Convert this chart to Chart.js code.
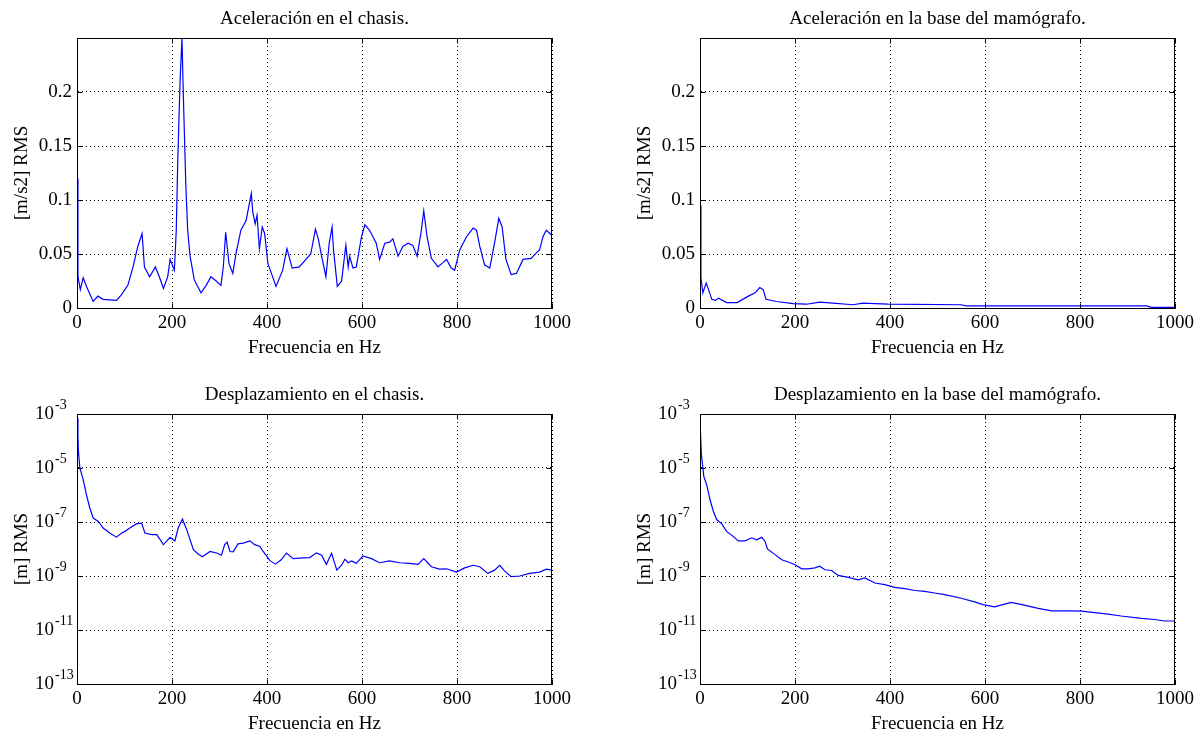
<!DOCTYPE html>
<html>
<head>
<meta charset="utf-8">
<script src="https://cdn.jsdelivr.net/npm/chart.js@4"></script>
<style>
  body { margin: 0; background: #fff; width: 1203px; height: 738px; position: relative; overflow: hidden; }
  canvas { position: absolute; }
</style>
</head>
<body>
<canvas id="g1" width="577" height="360" style="left:0;top:0"></canvas>
<canvas id="g2" width="577" height="360" style="left:623px;top:0"></canvas>
<canvas id="g3" width="577" height="360" style="left:0;top:376px"></canvas>
<canvas id="g4" width="577" height="360" style="left:623px;top:376px"></canvas>
<script>
// Datos (frecuencia en Hz / valor RMS)

// Aceleración en el chasis
var frecChasis = [0, 2, 7, 13, 20, 34, 44, 55, 83, 93,
    107, 118, 128, 137, 142, 153, 165, 174, 182, 191,
    196, 205, 209, 212, 217, 221, 224, 229, 233, 238,
    247, 261, 272, 282, 293, 303, 308, 313, 320, 328,
    335, 345, 356, 367, 370, 375, 379, 384, 390, 395,
    402, 419, 433, 442, 453, 468, 482, 492, 502, 508,
    515, 524, 531, 537, 540, 548, 557, 566, 571, 574,
    581, 588, 599, 606, 616, 630, 637, 648, 658, 665,
    676, 686, 697, 707, 716, 725, 730, 737, 746, 760,
    778, 788, 795, 806, 820, 834, 841, 848, 858, 869,
    879, 888, 895, 903, 914, 925, 939, 956, 967, 974,
    981, 988, 998, 1000];
var acelChasis = [0.12, 0.029, 0.017, 0.028, 0.02, 0.006, 0.011, 0.008, 0.007, 0.012,
    0.021, 0.038, 0.057, 0.069, 0.038, 0.029, 0.038, 0.028, 0.018, 0.029,
    0.045, 0.035, 0.072, 0.134, 0.21, 0.25, 0.195, 0.115, 0.072, 0.048,
    0.026, 0.014, 0.021, 0.029, 0.025, 0.021, 0.038, 0.07, 0.041, 0.032,
    0.051, 0.072, 0.081, 0.106, 0.089, 0.078, 0.086, 0.055, 0.075, 0.069,
    0.041, 0.02, 0.035, 0.055, 0.037, 0.038, 0.045, 0.05, 0.073, 0.064,
    0.048, 0.029, 0.06, 0.075, 0.054, 0.02, 0.025, 0.058, 0.038, 0.048,
    0.037, 0.038, 0.066, 0.077, 0.072, 0.06, 0.045, 0.06, 0.061, 0.064,
    0.048, 0.057, 0.06, 0.058, 0.048, 0.072, 0.09, 0.066, 0.046, 0.038,
    0.045, 0.037, 0.035, 0.054, 0.066, 0.074, 0.072, 0.057, 0.04, 0.037,
    0.06, 0.083, 0.075, 0.045, 0.031, 0.032, 0.045, 0.046, 0.051, 0.054,
    0.066, 0.072, 0.068, 0.066];

// Aceleración en la base del mamógrafo
var frecBase = [0, 2, 6, 13, 18, 25, 32, 39, 56, 78, 102, 116, 126, 133, 139, 161, 196, 224, 252, 280, 322, 343, 396, 550, 560, 600, 940, 950, 1000];
var acelBase = [0.095, 0.028, 0.014, 0.023, 0.017, 0.008, 0.007, 0.009, 0.005, 0.005, 0.011, 0.014, 0.019, 0.017, 0.008, 0.006, 0.004, 0.0035, 0.0055, 0.0045, 0.003, 0.0045, 0.0035, 0.003, 0.002, 0.002, 0.002, 0.0006, 0.0006];

// Desplazamiento en el chasis
var frecDespChasis = [0, 2, 3, 6, 13, 20, 27, 34, 45, 55, 69, 83, 94, 101, 111, 125, 136, 143, 157, 168,
    182, 196, 206, 213, 222, 231, 245, 255, 264, 280, 294, 304, 311, 316, 322, 329, 339, 350, 364, 374,
    385, 392, 406, 418, 430, 441, 455, 476, 490, 504, 515, 525, 536, 547, 557, 564, 571, 578, 588, 602,
    620, 637, 658, 679, 700, 718, 730, 746, 763, 778, 799, 816, 834, 848, 865, 879, 890, 900, 914, 932,
    953, 974, 988, 1000];
var despChasis = [7e-4, 1.5e-4, 4.2e-5, 1e-5, 3.7e-6, 1e-6, 3.3e-7, 1.4e-7, 1.05e-7, 6e-8, 3.9e-8, 2.75e-8, 3.9e-8, 4.5e-8, 6e-8, 8.5e-8, 9.1e-8, 3.9e-8, 3.4e-8, 3.4e-8,
    1.45e-8, 2.7e-8, 2e-8, 6e-8, 1.3e-7, 5.2e-8, 9.5e-9, 6.5e-9, 5.2e-9, 8.1e-9, 7.1e-9, 5.9e-9, 1.45e-8, 1.8e-8, 8.1e-9, 7.8e-9, 1.55e-8, 1.65e-8, 2e-8, 1.45e-8,
    1.25e-8, 8.1e-9, 3.7e-9, 2.75e-9, 4e-9, 7.1e-9, 4.4e-9, 4.7e-9, 4.8e-9, 7.2e-9, 5.9e-9, 2.7e-9, 6.9e-9, 1.65e-9, 2.5e-9, 4.2e-9, 3.1e-9, 3.6e-9, 2.95e-9, 5.5e-9,
    4.4e-9, 3.1e-9, 3.6e-9, 3.1e-9, 2.95e-9, 2.7e-9, 4.4e-9, 2.2e-9, 1.8e-9, 1.85e-9, 1.4e-9, 2e-9, 2.5e-9, 2.2e-9, 1.25e-9, 1.65e-9, 2.5e-9, 1.55e-9, 9.5e-10, 1e-9,
    1.25e-9, 1.4e-9, 1.8e-9, 1.65e-9];

// Desplazamiento en la base del mamógrafo
var frecDespBase = [0, 3, 8, 14, 21, 28, 35, 46, 56, 67, 81, 95, 109, 119, 130, 137, 142, 158, 172, 186,
    200, 214, 228, 242, 252, 263, 277, 291, 312, 333, 347, 368, 389, 410, 431, 453, 473, 494, 515, 550,
    578, 596, 620, 655, 683, 712, 740, 775, 803, 831, 859, 887, 929, 957, 978, 1000];
var despBase = [5.4e-4, 3.1e-5, 4.9e-6, 2.4e-6, 6.8e-7, 2.5e-7, 1.23e-7, 8.5e-8, 4.5e-8, 3.2e-8, 2e-8, 2e-8, 2.6e-8, 2.2e-8, 2.7e-8, 1.9e-8, 1e-8, 6.2e-9, 4e-9, 3.3e-9,
    2.6e-9, 1.85e-9, 1.85e-9, 2e-9, 2.3e-9, 1.7e-9, 1.6e-9, 1.05e-9, 8.9e-10, 7.2e-10, 8.5e-10, 5.5e-10, 4.8e-10, 3.8e-10, 3.4e-10, 2.9e-10, 2.7e-10, 2.35e-10, 2.05e-10, 1.5e-10,
    1.1e-10, 8.7e-11, 7.2e-11, 1.05e-10, 8.3e-11, 6.3e-11, 5.1e-11, 5.1e-11, 5e-11, 4.4e-11, 3.9e-11, 3.3e-11, 2.7e-11, 2.45e-11, 2.15e-11, 2.15e-11];

// Marcas de los ejes
var marcasFrec = [0, 200, 400, 600, 800, 1000];
var marcasAcel = [0, 0.05, 0.1, 0.15, 0.2];
var marcasDesp = [1e-13, 1e-11, 1e-9, 1e-7, 1e-5, 1e-3];

var fuente = "'Liberation Serif', 'Times New Roman', serif";
Chart.defaults.font.family = fuente;
Chart.defaults.font.size = 19;
Chart.defaults.color = '#000';

// Marco completo alrededor del área y marcas hacia dentro (estilo MATLAB)
var marco = {
    id: 'marco',
    afterDraw: function(chart) {
        var a = chart.chartArea, ctx = chart.ctx;
        var ex = chart.scales.x, ey = chart.scales.y;
        var l = Math.round(a.left) + 0.5, r = Math.round(a.right) - 0.5;
        var t = Math.round(a.top) + 0.5, b = Math.round(a.bottom) + 0.5;
        ctx.save();
        ctx.strokeStyle = '#000';
        ctx.lineWidth = 1;
        ctx.strokeRect(l, t, r - l, b - t);
        ctx.beginPath();
        ex.ticks.forEach(function(k) {
            var px = Math.round(ex.getPixelForValue(k.value)) + 0.5;
            ctx.moveTo(px, b); ctx.lineTo(px, b - 5);
            ctx.moveTo(px, t); ctx.lineTo(px, t + 5);
        });
        ey.ticks.forEach(function(k) {
            var py = Math.round(ey.getPixelForValue(k.value)) + 0.5;
            ctx.moveTo(l, py); ctx.lineTo(l + 5, py);
            ctx.moveTo(r, py); ctx.lineTo(r - 5, py);
        });
        ctx.stroke();
        ctx.restore();
    }
};

// Exponentes de las etiquetas 10^n en el eje logarítmico
var exponentes = {
    id: 'exponentes',
    afterDraw: function(chart) {
        var ey = chart.scales.y;
        if (ey.type !== 'logarithmic') return;
        var ctx = chart.ctx;
        ctx.save();
        ctx.font = '14px ' + fuente;
        ctx.fillStyle = '#000';
        ctx.textAlign = 'left';
        ctx.textBaseline = 'middle';
        ey.ticks.forEach(function(k) {
            var py = ey.getPixelForValue(k.value);
            ctx.fillText('-' + Math.round(-Math.log10(k.value)), ey.right - 22, py - 9);
        });
        ctx.restore();
    }
};

function crearGrafico(id, titulo, etiquetaY, frec, valores, log) {
    var ejeY = {
        type: log ? 'logarithmic' : 'linear',
        min: log ? 1e-13 : 0,
        max: log ? 1e-3 : 0.25,
        afterFit: function(s) { s.width = 77; },
        afterBuildTicks: function(s) {
            s.ticks = (log ? marcasDesp : marcasAcel).map(function(v) { return { value: v }; });
        },
        ticks: {
            padding: log ? 23 : 5,
            callback: function(v) { return log ? '10' : String(Number(v.toFixed(2))); }
        },
        grid: { color: '#000', drawTicks: false, lineWidth: 1 },
        border: { display: true, color: '#000', dash: [1, 3] },
        title: { display: true, text: etiquetaY, padding: { top: 10.6, bottom: 0 } }
    };
    return new Chart(document.getElementById(id), {
        type: 'line',
        data: {
            datasets: [{
                data: frec.map(function(f, i) { return { x: f, y: valores[i] }; }),
                borderColor: '#0000ff',
                borderWidth: 1.2,
                pointRadius: 0,
                tension: 0,
                fill: false
            }]
        },
        options: {
            responsive: false,
            animation: false,
            layout: { padding: { right: 25 } },
            plugins: {
                legend: { display: false },
                tooltip: { enabled: false },
                title: {
                    display: true, text: titulo, fullSize: false, color: '#000',
                    font: { size: 19, weight: 'normal' }, padding: { top: 7.6, bottom: 7.6 }
                }
            },
            scales: {
                x: {
                    type: 'linear', min: 0, max: 1000,
                    afterFit: function(s) { s.height = 52; },
                    afterBuildTicks: function(s) {
                        s.ticks = marcasFrec.map(function(v) { return { value: v }; });
                    },
                    ticks: { padding: 4, maxRotation: 0, callback: function(v) { return String(v); } },
                    grid: { color: '#000', drawTicks: false, lineWidth: 1 },
                    border: { display: true, color: '#000', dash: [1, 3] },
                    title: { display: true, text: 'Frecuencia en Hz', padding: { top: 0, bottom: 0.6 } }
                },
                y: ejeY
            }
        },
        plugins: [marco, exponentes]
    });
}

crearGrafico('g1', 'Aceleración en el chasis.', '[m/s2] RMS', frecChasis, acelChasis, false);
crearGrafico('g2', 'Aceleración en la base del mamógrafo.', '[m/s2] RMS', frecBase, acelBase, false);
crearGrafico('g3', 'Desplazamiento en el chasis.', '[m] RMS', frecDespChasis, despChasis, true);
crearGrafico('g4', 'Desplazamiento en la base del mamógrafo.', '[m] RMS', frecDespBase, despBase, true);
</script>
</body>
</html>
